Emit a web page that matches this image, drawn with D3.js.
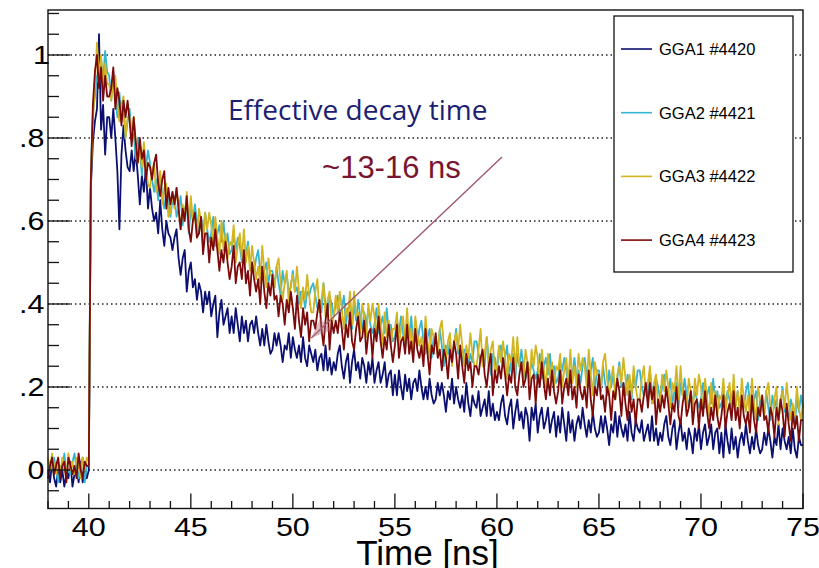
<!DOCTYPE html>
<html>
<head>
<meta charset="utf-8">
<script src="https://cdn.jsdelivr.net/npm/d3@7"></script>
<style>
  body { margin: 0; background: #fff; }
  svg { display: block; }
</style>
</head>
<body>
<div id="chart"></div>
<script>
// sampling grid: 38.0 .. 75.0 ns, 0.1 ns per point
var tStart = 38, tStep = 0.1;

var labels = ["GGA1 #4420", "GGA2 #4421", "GGA3 #4422", "GGA4 #4423"];
var colors = ["#0b1070", "#36b5d3", "#d2b521", "#7d0a0a"];

var xTicks = [40, 45, 50, 55, 60, 65, 70, 75];
var yTicks = [0, 0.2, 0.4, 0.6, 0.8, 1];
var yTickLabels = ["0", "0.2", "0.4", "0.6", "0.8", "1"];

// one row = 1 ns
var gga1 = [
  0.00,-0.03,0.02,-0.02,-0.04,0.01,-0.03,0.00,-0.04,-0.01,
  -0.02,0.02,-0.04,-0.01,0.01,-0.03,0.02,-0.03,0.00,-0.02,
  0.00,0.68,0.79,0.84,0.87,1.05,0.82,0.88,0.76,0.85,
  0.85,0.80,0.87,0.80,0.72,0.58,0.76,0.83,0.77,0.73,
  0.72,0.77,0.72,0.77,0.71,0.64,0.71,0.67,0.73,0.63,
  0.68,0.63,0.60,0.62,0.57,0.65,0.58,0.54,0.60,0.57,
  0.56,0.53,0.56,0.58,0.51,0.47,0.51,0.53,0.43,0.48,
  0.50,0.44,0.46,0.41,0.45,0.43,0.38,0.43,0.40,0.43,
  0.37,0.40,0.42,0.32,0.38,0.41,0.35,0.37,0.39,0.33,
  0.37,0.33,0.39,0.35,0.31,0.37,0.33,0.36,0.31,0.35,
  0.36,0.33,0.37,0.33,0.30,0.34,0.30,0.35,0.31,0.28,
  0.29,0.33,0.30,0.33,0.30,0.26,0.30,0.29,0.33,0.27,
  0.32,0.29,0.27,0.30,0.26,0.32,0.27,0.25,0.30,0.28,
  0.26,0.29,0.24,0.27,0.28,0.24,0.30,0.24,0.27,0.23,
  0.26,0.24,0.28,0.30,0.25,0.22,0.26,0.28,0.21,0.26,
  0.29,0.24,0.26,0.22,0.27,0.25,0.21,0.26,0.23,0.27,
  0.21,0.24,0.26,0.21,0.23,0.26,0.20,0.23,0.24,0.18,
  0.23,0.18,0.24,0.20,0.17,0.23,0.19,0.22,0.17,0.21,
  0.22,0.19,0.24,0.20,0.17,0.20,0.17,0.22,0.18,0.16,
  0.17,0.21,0.18,0.21,0.18,0.14,0.19,0.17,0.22,0.16,
  0.20,0.17,0.15,0.18,0.14,0.21,0.16,0.13,0.18,0.16,
  0.15,0.19,0.13,0.15,0.17,0.13,0.19,0.13,0.16,0.12,
  0.14,0.12,0.16,0.18,0.13,0.11,0.15,0.17,0.10,0.14,
  0.17,0.12,0.14,0.10,0.15,0.13,0.07,0.15,0.12,0.16,
  0.09,0.13,0.15,0.10,0.12,0.15,0.09,0.12,0.14,0.08,
  0.13,0.09,0.15,0.11,0.07,0.14,0.09,0.12,0.07,0.11,
  0.13,0.10,0.15,0.11,0.08,0.12,0.09,0.14,0.10,0.08,
  0.09,0.13,0.09,0.13,0.10,0.06,0.11,0.09,0.14,0.08,
  0.13,0.10,0.08,0.11,0.07,0.14,0.09,0.07,0.12,0.10,
  0.09,0.12,0.07,0.09,0.11,0.07,0.13,0.07,0.10,0.06,
  0.09,0.07,0.11,0.13,0.08,0.06,0.10,0.12,0.05,0.09,
  0.12,0.07,0.09,0.05,0.10,0.08,0.04,0.10,0.07,0.11,
  0.05,0.09,0.11,0.06,0.08,0.11,0.05,0.09,0.10,0.04,
  0.09,0.03,0.11,0.07,0.04,0.10,0.05,0.08,0.03,0.07,
  0.09,0.06,0.11,0.07,0.04,0.08,0.05,0.10,0.06,0.04,
  0.05,0.09,0.06,0.10,0.07,0.03,0.08,0.06,0.11,0.05,
  0.10,0.07,0.05,0.08,0.04,0.10,0.05,0.03,0.08,0.06,
  0.06
];

var gga2 = [
  -0.01,0.02,0.00,0.03,0.00,-0.03,0.01,0.00,0.04,-0.01,
  0.00,-0.01,0.02,0.04,0.00,-0.02,0.01,0.03,-0.03,0.01,
  0.01,0.72,0.86,0.90,0.95,0.93,0.99,0.94,1.01,0.96,
  0.95,0.89,0.96,0.90,0.85,0.91,0.84,0.87,0.80,0.84,
  0.87,0.80,0.81,0.75,0.80,0.77,0.71,0.77,0.73,0.77,
  0.74,0.70,0.67,0.70,0.65,0.71,0.66,0.63,0.67,0.65,
  0.61,0.65,0.66,0.61,0.63,0.66,0.59,0.63,0.64,0.57,
  0.63,0.60,0.64,0.60,0.57,0.61,0.57,0.62,0.58,0.55,
  0.57,0.61,0.54,0.57,0.59,0.55,0.60,0.54,0.57,0.52,
  0.53,0.57,0.53,0.56,0.54,0.50,0.53,0.52,0.55,0.50,
  0.50,0.48,0.51,0.53,0.48,0.46,0.48,0.50,0.45,0.48,
  0.48,0.44,0.49,0.45,0.42,0.48,0.45,0.47,0.43,0.44,
  0.48,0.43,0.44,0.40,0.43,0.43,0.39,0.43,0.42,0.44,
  0.45,0.42,0.39,0.41,0.38,0.45,0.40,0.37,0.42,0.40,
  0.37,0.40,0.42,0.37,0.39,0.42,0.35,0.39,0.40,0.34,
  0.40,0.36,0.41,0.37,0.34,0.38,0.35,0.39,0.35,0.33,
  0.35,0.39,0.33,0.35,0.37,0.33,0.39,0.33,0.35,0.31,
  0.32,0.36,0.33,0.37,0.33,0.29,0.34,0.32,0.37,0.31,
  0.33,0.30,0.34,0.36,0.31,0.28,0.32,0.34,0.27,0.32,
  0.32,0.28,0.34,0.30,0.25,0.30,0.28,0.31,0.26,0.30,
  0.34,0.28,0.29,0.26,0.29,0.29,0.25,0.28,0.26,0.31,
  0.31,0.28,0.26,0.28,0.25,0.32,0.27,0.23,0.28,0.27,
  0.24,0.28,0.30,0.25,0.27,0.30,0.23,0.26,0.28,0.22,
  0.28,0.25,0.29,0.25,0.22,0.26,0.23,0.26,0.24,0.22,
  0.24,0.28,0.22,0.25,0.27,0.23,0.28,0.22,0.25,0.21,
  0.22,0.26,0.24,0.27,0.24,0.20,0.24,0.23,0.27,0.22,
  0.24,0.21,0.25,0.27,0.23,0.20,0.24,0.27,0.19,0.24,
  0.24,0.19,0.25,0.21,0.18,0.24,0.20,0.23,0.19,0.22,
  0.26,0.20,0.21,0.18,0.23,0.21,0.17,0.23,0.20,0.24,
  0.24,0.20,0.18,0.20,0.17,0.24,0.19,0.16,0.22,0.20,
  0.17,0.20,0.23,0.18,0.19,0.22,0.16,0.19,0.21,0.15,
  0.21,0.18,0.22,0.18,0.15,0.19,0.16,0.19,0.17,0.15,
  0.17,0.21,0.15,0.18,0.20,0.16,0.22,0.16,0.19,0.15,
  0.16,0.19,0.16,0.19,0.17,0.13,0.17,0.16,0.19,0.15,
  0.17,0.15,0.19,0.21,0.16,0.14,0.17,0.19,0.12,0.17,
  0.17,0.13,0.19,0.15,0.12,0.18,0.15,0.17,0.12,0.16,
  0.20,0.14,0.15,0.12,0.17,0.15,0.11,0.17,0.14,0.18,
  0.15
];

var gga3 = [
  0.03,0.00,0.04,0.01,-0.01,0.02,-0.01,0.03,0.00,-0.01,
  0.04,0.00,0.02,-0.01,0.03,0.01,-0.02,0.03,0.00,0.03,
  0.02,0.70,0.84,0.93,1.03,0.95,1.00,0.92,0.98,0.93,
  0.93,0.89,0.94,0.95,0.88,0.84,0.88,0.90,0.80,0.85,
  0.85,0.80,0.85,0.79,0.74,0.78,0.73,0.79,0.73,0.69,
  0.68,0.72,0.74,0.67,0.69,0.72,0.64,0.68,0.69,0.61,
  0.62,0.67,0.63,0.68,0.63,0.58,0.64,0.61,0.67,0.59,
  0.66,0.60,0.61,0.56,0.63,0.60,0.54,0.62,0.58,0.62,
  0.59,0.54,0.61,0.56,0.52,0.60,0.53,0.57,0.51,0.55,
  0.54,0.59,0.50,0.54,0.57,0.51,0.58,0.50,0.54,0.48,
  0.54,0.50,0.46,0.49,0.45,0.54,0.48,0.44,0.51,0.47,
  0.47,0.44,0.49,0.51,0.45,0.41,0.45,0.48,0.40,0.45,
  0.47,0.43,0.49,0.43,0.39,0.44,0.41,0.47,0.42,0.38,
  0.38,0.43,0.46,0.38,0.41,0.45,0.37,0.41,0.43,0.35,
  0.37,0.42,0.38,0.43,0.39,0.34,0.39,0.37,0.43,0.35,
  0.43,0.37,0.38,0.33,0.40,0.37,0.32,0.40,0.36,0.40,
  0.37,0.32,0.40,0.35,0.30,0.38,0.32,0.36,0.30,0.34,
  0.34,0.38,0.30,0.34,0.37,0.31,0.39,0.30,0.34,0.29,
  0.37,0.33,0.30,0.32,0.28,0.37,0.31,0.27,0.34,0.32,
  0.32,0.28,0.34,0.36,0.30,0.26,0.31,0.33,0.25,0.31,
  0.33,0.29,0.35,0.30,0.25,0.30,0.27,0.33,0.28,0.25,
  0.25,0.29,0.34,0.25,0.28,0.32,0.24,0.29,0.31,0.23,
  0.25,0.30,0.26,0.31,0.27,0.22,0.28,0.26,0.32,0.24,
  0.32,0.25,0.26,0.22,0.29,0.26,0.21,0.29,0.25,0.30,
  0.27,0.21,0.29,0.24,0.20,0.28,0.22,0.26,0.20,0.25,
  0.24,0.28,0.20,0.24,0.27,0.21,0.29,0.21,0.25,0.20,
  0.28,0.24,0.27,0.25,0.20,0.29,0.23,0.18,0.26,0.23,
  0.23,0.20,0.26,0.28,0.22,0.18,0.22,0.25,0.17,0.23,
  0.25,0.21,0.27,0.22,0.18,0.23,0.18,0.25,0.20,0.17,
  0.17,0.22,0.25,0.18,0.21,0.25,0.16,0.21,0.23,0.15,
  0.17,0.23,0.19,0.24,0.20,0.15,0.21,0.19,0.25,0.17,
  0.25,0.18,0.19,0.15,0.22,0.19,0.14,0.22,0.18,0.23,
  0.20,0.14,0.22,0.17,0.13,0.21,0.15,0.19,0.13,0.18,
  0.17,0.22,0.14,0.18,0.21,0.15,0.23,0.15,0.19,0.14,
  0.22,0.17,0.14,0.18,0.13,0.22,0.16,0.12,0.20,0.17,
  0.17,0.13,0.19,0.21,0.15,0.12,0.17,0.20,0.11,0.17,
  0.19,0.15,0.21,0.16,0.12,0.16,0.13,0.20,0.15,0.12,
  0.16
];

var gga4 = [
  -0.02,0.01,0.03,-0.01,0.01,0.03,-0.02,0.01,0.02,-0.03,
  0.03,0.01,-0.01,0.01,-0.02,0.04,0.00,-0.02,0.02,0.01,
  0.01,0.70,0.88,0.96,1.00,0.92,0.97,0.89,0.95,0.90,
  0.90,0.92,0.97,0.87,0.92,0.89,0.83,0.89,0.85,0.89,
  0.84,0.78,0.85,0.79,0.74,0.80,0.75,0.77,0.70,0.74,
  0.73,0.70,0.74,0.76,0.69,0.66,0.70,0.72,0.63,0.68,
  0.64,0.67,0.64,0.68,0.63,0.58,0.63,0.60,0.66,0.58,
  0.55,0.60,0.62,0.56,0.57,0.61,0.52,0.57,0.57,0.50,
  0.56,0.53,0.58,0.53,0.48,0.53,0.50,0.55,0.50,0.46,
  0.49,0.54,0.45,0.49,0.50,0.46,0.53,0.45,0.48,0.42,
  0.50,0.46,0.43,0.46,0.40,0.49,0.43,0.39,0.45,0.42,
  0.47,0.41,0.42,0.37,0.42,0.40,0.35,0.41,0.38,0.43,
  0.39,0.34,0.42,0.36,0.32,0.39,0.35,0.38,0.31,0.36,
  0.36,0.34,0.38,0.41,0.34,0.30,0.36,0.40,0.29,0.36,
  0.33,0.36,0.33,0.38,0.34,0.29,0.35,0.32,0.38,0.31,
  0.29,0.34,0.37,0.31,0.32,0.36,0.28,0.33,0.34,0.27,
  0.34,0.31,0.37,0.31,0.27,0.32,0.29,0.35,0.30,0.26,
  0.30,0.35,0.27,0.31,0.32,0.28,0.35,0.28,0.31,0.26,
  0.34,0.29,0.27,0.30,0.25,0.34,0.28,0.23,0.30,0.28,
  0.33,0.27,0.29,0.24,0.29,0.27,0.22,0.29,0.26,0.31,
  0.28,0.22,0.30,0.25,0.21,0.28,0.24,0.26,0.20,0.25,
  0.25,0.23,0.27,0.29,0.23,0.20,0.25,0.28,0.18,0.24,
  0.21,0.25,0.22,0.27,0.23,0.18,0.23,0.21,0.27,0.20,
  0.18,0.23,0.26,0.20,0.22,0.26,0.17,0.22,0.23,0.16,
  0.23,0.20,0.26,0.21,0.17,0.22,0.18,0.24,0.19,0.16,
  0.19,0.24,0.16,0.20,0.22,0.18,0.24,0.17,0.20,0.15,
  0.23,0.19,0.17,0.20,0.15,0.24,0.17,0.13,0.20,0.18,
  0.23,0.17,0.18,0.14,0.20,0.18,0.12,0.19,0.17,0.22,
  0.19,0.13,0.21,0.16,0.12,0.19,0.14,0.17,0.11,0.17,
  0.17,0.14,0.18,0.21,0.15,0.21,0.17,0.20,0.11,0.17,
  0.14,0.18,0.15,0.20,0.16,0.11,0.16,0.14,0.20,0.13,
  0.11,0.16,0.19,0.13,0.15,0.19,0.11,0.16,0.17,0.10,
  0.17,0.13,0.19,0.14,0.10,0.15,0.12,0.18,0.13,0.10,
  0.13,0.18,0.10,0.14,0.16,0.12,0.19,0.12,0.15,0.10,
  0.18,0.13,0.11,0.14,0.09,0.18,0.12,0.09,0.15,0.13,
  0.18,0.12,0.13,0.09,0.15,0.13,0.08,0.15,0.12,0.17,
  0.14,0.08,0.16,0.11,0.07,0.14,0.10,0.13,0.07,0.12,
  0.12
];

var series = [gga1, gga2, gga3, gga4];

// annotation: arrow from label down to the traces (data coords)
var arrowFrom = [60.25, 0.754], arrowTo = [50.9, 0.318];

var width = 819, height = 568;

var svg = d3.select("#chart").append("svg")
    .attr("width", width)
    .attr("height", height)
    .style("font-family", "'Liberation Sans', Arial, Helvetica, sans-serif");

var x = d3.scaleLinear().domain([38, 75]).range([48, 803]);
var y = d3.scaleLinear().domain([-0.0928, 1.1084]).range([508.5, 10]);

var x0 = x.range()[0], x1 = x.range()[1];
var y0 = y.range()[0], y1 = y.range()[1];

// dotted grid
svg.append("g").selectAll("line")
    .data(yTicks)
    .enter().append("line")
    .attr("x1", x0).attr("x2", x1)
    .attr("y1", function(d) { return y(d); })
    .attr("y2", function(d) { return y(d); })
    .attr("stroke", "#222")
    .attr("stroke-width", 1.3)
    .attr("stroke-dasharray", "1.5,3");

// traces
var line = d3.line()
    .x(function(d, i) { return x(tStart + i * tStep); })
    .y(function(d) { return y(d); });

svg.append("g").selectAll("path")
    .data(series)
    .enter().append("path")
    .attr("d", line)
    .attr("fill", "none")
    .attr("stroke", function(d, i) { return colors[i]; })
    .attr("stroke-width", 1.8)
    .attr("stroke-linejoin", "round");

// frame
svg.append("rect")
    .attr("x", x0).attr("y", y1)
    .attr("width", x1 - x0).attr("height", y0 - y1)
    .attr("fill", "none")
    .attr("stroke", "#111")
    .attr("stroke-width", 1.4);

// y ticks (minor every 0.05, major every 0.2)
var yMinor = d3.range(-0.05, 1.11, 0.05);
svg.append("g").selectAll("line")
    .data(yMinor)
    .enter().append("line")
    .attr("x1", x0)
    .attr("x2", function(d) {
        return Math.abs(Math.round(d * 100) % 20) === 0 ? x0 + 22 : x0 + 11;
    })
    .attr("y1", function(d) { return y(d); })
    .attr("y2", function(d) { return y(d); })
    .attr("stroke", "#111")
    .attr("stroke-width", 1.3);

// labels are drawn a little wide, as in the original export
var stretch = 1.22;
svg.append("g").selectAll("text")
    .data(yTicks)
    .enter().append("text")
    .attr("transform", function(d, i) {
        var xe = yTickLabels[i] === "1" ? 50 : 44.5;
        return "translate(" + xe + "," + y(d) + ") scale(" + stretch + ",1)";
    })
    .attr("dy", "0.36em")
    .attr("dx", function(d, i) { return yTickLabels[i].length > 1 ? "0 18 0" : null; })
    .attr("text-anchor", "end")
    .style("font-size", "25px")
    .text(function(d, i) { return yTickLabels[i]; });

// x ticks (minor every 1 ns)
var xMinor = d3.range(38, 75.5, 1);
svg.append("g").selectAll("line")
    .data(xMinor)
    .enter().append("line")
    .attr("x1", function(d) { return x(d); })
    .attr("x2", function(d) { return x(d); })
    .attr("y1", y0)
    .attr("y2", function(d) { return d % 5 === 0 ? y0 - 15 : y0 - 7.5; })
    .attr("stroke", "#111")
    .attr("stroke-width", 1.3);

svg.append("g").selectAll("text")
    .data(xTicks)
    .enter().append("text")
    .attr("transform", function(d) { return "translate(" + x(d) + ",536) scale(" + stretch + ",1)"; })
    .attr("text-anchor", "middle")
    .style("font-size", "25px")
    .text(function(d) { return d; });

svg.append("text")
    .attr("x", (x0 + x1) / 2 + 2)
    .attr("y", 565)
    .attr("text-anchor", "middle")
    .style("font-size", "35px")
    .text("Time [ns]");

// annotation
var ax1 = x(arrowFrom[0]), ay1 = y(arrowFrom[1]);
var ax2 = x(arrowTo[0]), ay2 = y(arrowTo[1]);
svg.append("line")
    .attr("x1", ax1).attr("y1", ay1)
    .attr("x2", ax2).attr("y2", ay2)
    .attr("stroke", "#a0586c")
    .attr("stroke-width", 1.4);

var ang = Math.atan2(ay2 - ay1, ax2 - ax1), hl = 20, hw = 8;
var bx = ax2 - hl * Math.cos(ang), by = ay2 - hl * Math.sin(ang);
svg.append("path")
    .attr("d", "M" + ax2 + "," + ay2 +
        "L" + (bx + hw * Math.sin(ang)) + "," + (by - hw * Math.cos(ang)) +
        "L" + (bx - hw * Math.sin(ang)) + "," + (by + hw * Math.cos(ang)) + "Z")
    .attr("fill", "#b06a7c")
    .attr("opacity", 0.45);

svg.append("text")
    .attr("x", x(46.82))
    .attr("y", y(0.843))
    .attr("fill", "#1c2072")
    .style("font-family", "'Open Sans', sans-serif")
    .style("font-size", "28px")
    .text("Effective decay time");

svg.append("text")
    .attr("x", x(51.43))
    .attr("y", y(0.704))
    .attr("fill", "#7a1530")
    .style("font-size", "31px")
    .text("~13-16 ns");

// legend
var legend = svg.append("g");
legend.append("rect")
    .attr("x", 614).attr("y", 16)
    .attr("width", 179).attr("height", 256)
    .attr("fill", "#fff")
    .attr("stroke", "#111")
    .attr("stroke-width", 1.3);

var entry = legend.selectAll("g.entry")
    .data(labels)
    .enter().append("g")
    .attr("class", "entry")
    .attr("transform", function(d, i) { return "translate(0," + (49 + i * 63.7) + ")"; });

entry.append("line")
    .attr("x1", 621).attr("x2", 652)
    .attr("stroke", function(d, i) { return colors[i]; })
    .attr("stroke-width", 1.6);

entry.append("text")
    .attr("x", 659)
    .attr("dy", "0.36em")
    .style("font-size", "16.5px")
    .text(function(d) { return d; });
</script>
</body>
</html>
